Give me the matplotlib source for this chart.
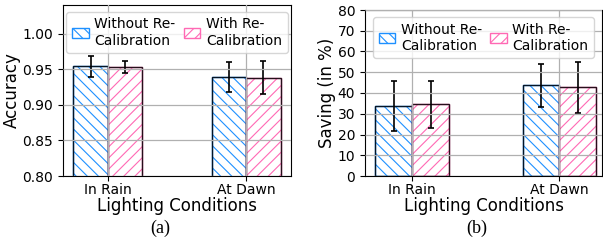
import numpy as np
import matplotlib.pyplot as plt

conditions = ["In Rain", "At Dawn"]
series = ["Without Re-\nCalibration", "With Re-\nCalibration"]

acc_without = [0.954, 0.939]
acc_without_err = [0.015, 0.021]
acc_with = [0.953, 0.938]
acc_with_err = [0.009, 0.023]

sav_without = [33.8, 43.8]
sav_without_err = [11.9, 10.4]
sav_with = [34.6, 42.7]
sav_with_err = [11.4, 12.2]

blue = "#1E90FF"
pink = "#FF69B4"
plt.rcParams["hatch.linewidth"] = 0.8


def draw_panel(ax, vals_a, err_a, vals_b, err_b):
    x = np.arange(len(conditions))
    w = 0.25
    for off, vals, err, col, hatch, lab in [(-w / 2, vals_a, err_a, blue, "\\\\\\", series[0]),
                                            (w / 2, vals_b, err_b, pink, "///", series[1])]:
        ax.bar(x + off, vals, w, color="white", edgecolor=col, hatch=hatch, linewidth=1.0, label=lab)
        ax.bar(x + off, vals, w, fill=False, edgecolor="black", linewidth=1.0, alpha=0.85)
        ax.errorbar(x + off, vals, yerr=err, fmt="none", ecolor="black", elinewidth=1.2,
                    capsize=2.5, capthick=1.2)
    ax.set_xticks(x)
    ax.set_xticklabels(conditions, fontsize=10)
    ax.tick_params(axis="y", labelsize=10)
    ax.tick_params(axis="x", pad=1.5)
    ax.set_xlabel("Lighting Conditions", fontsize=12, labelpad=0)
    ax.grid(True, color="#b0b0b0", linewidth=0.9)
    ax.set_axisbelow(False)
    ax.legend(loc="upper center", ncol=2, fontsize=10, handlelength=1.2, handletextpad=0.4,
              columnspacing=0.6, borderaxespad=0.5)


fig = plt.figure(figsize=(6.03, 2.41), dpi=100)

ax1 = fig.add_axes([63 / 603, 1 - 176 / 241, 228 / 603, 171 / 241])
draw_panel(ax1, acc_without, acc_without_err, acc_with, acc_with_err)
ax1.set_ylim(0.80, 1.04)
ax1.set_yticks([0.80, 0.85, 0.90, 0.95, 1.00])
ax1.set_yticklabels(["0.80", "0.85", "0.90", "0.95", "1.00"])
ax1.set_ylabel("Accuracy", fontsize=12, labelpad=1)

ax2 = fig.add_axes([365 / 603, 1 - 176 / 241, 237 / 603, 166 / 241])
draw_panel(ax2, sav_without, sav_without_err, sav_with, sav_with_err)
ax2.set_ylim(0, 80)
ax2.set_yticks(np.arange(0, 81, 10))
ax2.set_xlim(-0.32, 1.29)
ax2.set_ylabel("Saving (in %)", fontsize=12, labelpad=1)

fig.text(160 / 603, 1 - 228 / 241, "(a)", ha="center", va="center", fontsize=13,
         family="Liberation Serif")
fig.text(477 / 603, 1 - 228 / 241, "(b)", ha="center", va="center", fontsize=13,
         family="Liberation Serif")

fig.savefig("out.png", dpi=100)
